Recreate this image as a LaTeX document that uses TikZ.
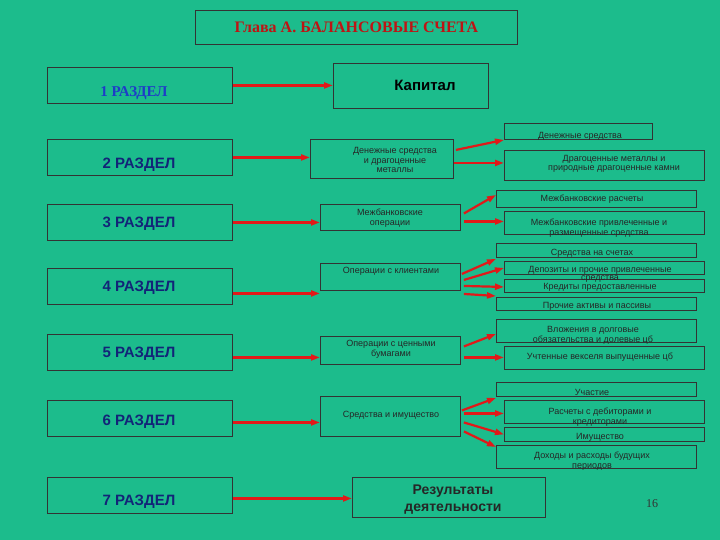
\documentclass[tikz,border=0pt]{standalone}
\usepackage{fontspec}
\setmainfont{Liberation Serif}
\setsansfont{Liberation Sans}
\usetikzlibrary{arrows.meta}
\definecolor{bg}{RGB}{28,188,140}
\definecolor{tred}{RGB}{190,20,20}
\definecolor{tblue}{RGB}{30,60,200}
\definecolor{arr}{RGB}{225,25,25}
\tikzset{
 bx/.style={draw=black!80,line width=0.9pt,inner sep=0pt,anchor=north west},
 sm/.style={font=\sffamily\fontsize{9}{9.6}\selectfont,align=center,text=black!85},
 rz/.style={font=\sffamily\bfseries\fontsize{15}{15}\selectfont,text=tblue!60!black},
 ar/.style={draw=arr,line width=2.2pt,-{Triangle[length=9pt,width=6pt]}}
}
\newcommand{\bxx}[5]{\node[bx,minimum width={#4-#2},minimum height={#5-#3}] (#1) at (#2,#3) {};}
\begin{document}
\begin{tikzpicture}[x=1pt,y=-1pt]
\fill[bg] (0,0) rectangle (720,540);
\useasboundingbox (0,0) rectangle (720,540);
% title
\bxx{t}{195}{10}{517}{44}
\node[font=\bfseries\fontsize{16}{16}\selectfont,text=tred] at (t.center) {Глава А. БАЛАНСОВЫЕ СЧЕТА};
% left
\bxx{r1}{47}{67}{232}{103}
\bxx{r2}{47}{139}{232}{175}
\bxx{r3}{47}{204}{232}{240}
\bxx{r4}{47}{268}{232}{304}
\bxx{r5}{47}{334}{232}{370}
\bxx{r6}{47}{400}{232}{436}
\bxx{r7}{47}{477}{232}{513}
\node[font=\bfseries\fontsize{15}{15}\selectfont,text=tblue] at (134,93) {1 РАЗДЕЛ};
\node[rz] at (139,165) {2 РАЗДЕЛ};
\node[rz] at (139,224) {3 РАЗДЕЛ};
\node[rz] at (139,288) {4 РАЗДЕЛ};
\node[rz] at (139,354) {5 РАЗДЕЛ};
\node[rz] at (139,422) {6 РАЗДЕЛ};
\node[rz] at (139,502) {7 РАЗДЕЛ};
% middle
\bxx{kap}{333}{63}{488}{108}
\node[font=\sffamily\bfseries\fontsize{15}{15}\selectfont] at (425,85) {Капитал};
\bxx{m2}{310}{139}{453}{178}
\node[sm] at (395,160) {Денежные средства\\и драгоценные\\металлы};
\bxx{m3}{320}{204}{460}{230}
\node[sm] at (390,218) {Межбанковские\\операции};
\bxx{m4}{320}{263}{460}{290}
\node[sm] at (391,271) {Операции с клиентами};
\bxx{m5}{320}{336}{460}{364}
\node[sm] at (391,349) {Операции с ценными\\бумагами};
\bxx{m6}{320}{396}{460}{436}
\node[sm] at (391,415) {Средства и имущество};
\bxx{m7}{352}{477}{545}{517}
\node[font=\sffamily\bfseries\fontsize{14}{17}\selectfont,align=center,text=black!85] at (453,500) {Результаты\\деятельности};
\node[font=\fontsize{12}{12}\selectfont,text=black!80] at (652,504) {16};
% right
\bxx{a1}{504}{123}{652}{139}
\node[sm] at (580,136) {Денежные средства};
\bxx{a2}{504}{150}{704}{180}
\node[sm] at (614,164) {Драгоценные металлы и\\природные драгоценные камни};
\bxx{b1}{496}{190}{696}{207}
\node[sm] at (592,199) {Межбанковские расчеты};
\bxx{b2}{504}{211}{704}{234}
\node[sm] at (599,228) {Межбанковские привлеченные и\\размещенные средства};
\bxx{c1}{496}{243}{696}{257}
\node[sm] at (592,253) {Средства на счетах};
\bxx{c2}{504}{261}{704}{274}
\bxx{c3}{504}{279}{704}{292}
\node[sm,font=\sffamily\fontsize{9}{8}\selectfont] at (600,279) {Депозиты и прочие привлеченные\\средства\\Кредиты предоставленные};
\bxx{c4}{496}{297}{696}{310}
\node[sm] at (597,306) {Прочие активы и пассивы};
\bxx{d1}{496}{319}{696}{342}
\node[sm] at (593,335) {Вложения в долговые\\обязательства и долевые цб};
\bxx{d2}{504}{346}{704}{369}
\node[sm] at (600,357) {Учтенные векселя выпущенные цб};
\bxx{e1}{496}{382}{696}{396}
\node[sm] at (592,392) {Участие};
\bxx{e2}{504}{400}{704}{423}
\node[sm] at (600,417) {Расчеты с дебиторами и\\кредиторами};
\bxx{e3}{504}{427}{704}{441}
\node[sm] at (600,437) {Имущество};
\bxx{e4}{496}{445}{696}{468}
\node[sm] at (592,461) {Доходы и расходы будущих\\периодов};
% arrows left
\draw[ar] (r1.east) -- (r1.east-|kap.west);
\draw[ar] (r2.east) -- (r2.east-|m2.west);
\draw[ar] (r3.east) -- (r3.east-|m3.west);
\draw[ar] ([yshift=-7pt]r4.east) coordinate (s4) -- (s4-|m4.west);
\draw[ar] ([yshift=-5pt]r5.east) coordinate (s5) -- (s5-|m5.west);
\draw[ar] ([yshift=-4pt]r6.east) coordinate (s6) -- (s6-|m6.west);
\draw[ar] ([yshift=-3pt]r7.east) coordinate (s7) -- (s7-|m7.west);
% arrows right
\draw[ar] ([xshift=2pt,yshift=9pt]m2.east) -- (a1.south west);
\draw[ar] ([yshift=-4pt]m2.east) coordinate (q2) -- (q2-|a2.west);
\draw[ar] ([xshift=3pt,yshift=4pt]m3.east) -- ([yshift=4pt]b1.west);
\draw[ar] ([xshift=3pt,yshift=-4pt]m3.east) coordinate (q3) -- (q3-|b2.west);
\draw[ar] ([xshift=1pt,yshift=3pt]m4.east) -- ([yshift=-1pt]c1.south west);
\draw[ar] ([xshift=3pt,yshift=-3pt]m4.east) -- (c2.west);
\draw[ar] ([xshift=3pt,yshift=-9pt]m4.east) -- ([yshift=-1pt]c3.west);
\draw[ar] ([xshift=3pt,yshift=-17pt]m4.east) -- ([yshift=1pt]c4.north west);
\draw[ar] ([xshift=3pt,yshift=4pt]m5.east) -- ([yshift=-3pt]d1.west);
\draw[ar] ([xshift=3pt,yshift=-7pt]m5.east) coordinate (q5) -- (q5-|d2.west);
\draw[ar] ([xshift=1pt,yshift=6pt]m6.east) -- ([yshift=-1pt]e1.south west);
\draw[ar] ([xshift=3pt,yshift=3pt]m6.east) coordinate (q6) -- (q6-|e2.west);
\draw[ar] ([xshift=3pt,yshift=-6pt]m6.east) -- (e3.west);
\draw[ar] ([xshift=3pt,yshift=-15pt]m6.east) -- ([yshift=-2pt]e4.north west);
\end{tikzpicture}
\end{document}
